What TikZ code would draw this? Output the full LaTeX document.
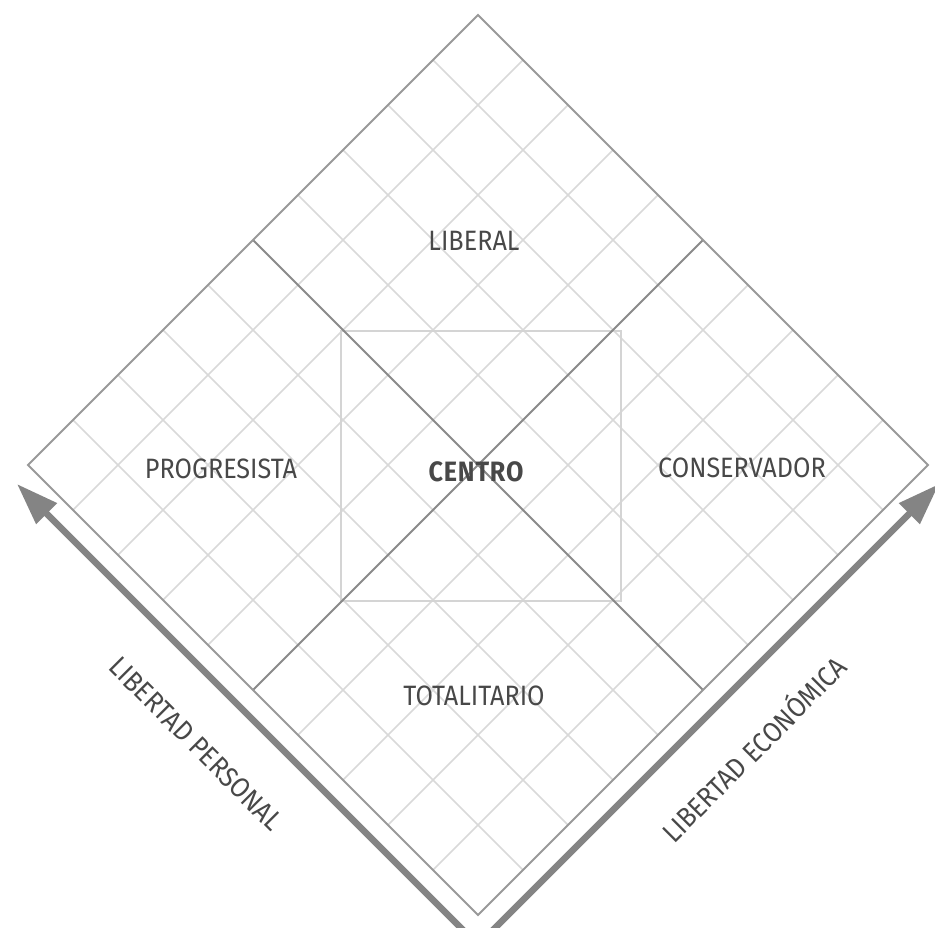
\documentclass[tikz,border=0pt]{standalone}
\usepackage{fontspec}
\newfontfamily\labfont[FakeStretch=0.9]{Fira Sans}
\usetikzlibrary{arrows.meta,calc}
\definecolor{edgegray}{HTML}{999999}
\definecolor{divgray}{HTML}{8A8A8A}
\definecolor{gridgray}{HTML}{D9D9D9}
\definecolor{boxgray}{HTML}{D4D4D4}
\definecolor{arrowgray}{HTML}{848484}
\definecolor{textgray}{HTML}{484848}
\begin{document}
\begin{tikzpicture}[x=1pt,y=-1pt,
  gridline/.style={draw=gridgray,line width=1.5pt},
  border/.style={draw=edgegray,line width=2pt,line join=miter},
  divider/.style={draw=divgray,line width=2pt},
  centerbox/.style={draw=boxgray,line width=2pt},
  axisarrow/.style={draw=arrowgray,line width=6.5pt,-{Triangle[length=42pt,width=28pt]}},
  region/.style={font=\labfont\fontsize{28}{32}\selectfont,text=textgray,inner sep=0pt,text height=19pt,text depth=0pt},
  axislabel/.style={font=\labfont\fontsize{28}{32}\selectfont,text=textgray,inner sep=0pt,text height=19pt,text depth=0pt},
]
\useasboundingbox (0,0) rectangle (935,928);
\clip (0,0) rectangle (935,928);
\coordinate (C) at (478,465);
\coordinate (T) at (478,15);
\coordinate (L) at (28,465);
\coordinate (B) at (478,915);
\coordinate (R) at (928,465);
\foreach \k in {1,2,3,4,6,7,8,9}{
  \draw[gridline] ($(L)!\k/10!(T)$) -- ($(B)!\k/10!(R)$);
  \draw[gridline] ($(L)!\k/10!(B)$) -- ($(T)!\k/10!(R)$);
}
\draw[centerbox] (341,331) rectangle (621,601);
\draw[divider] ($(L)!0.5!(T)$) -- ($(B)!0.5!(R)$);
\draw[divider] ($(L)!0.5!(B)$) -- ($(T)!0.5!(R)$);
\draw[border] (T) -- (R) -- (B) -- (L) -- cycle;
\coordinate (O) at (478,945);
\coordinate (PL) at (17,484);
\coordinate (PR) at (939,484);
\draw[axisarrow] (O) -- (PL);
\draw[axisarrow] (O) -- (PR);
\node[region] (lib) at (474,241) {LIBERAL};
\node[region] (prog) at (221,469) {PROGRESISTA};
\node[region] (cons) at (742,468) {CONSERVADOR};
\node[region] (tot) at (474,696) {TOTALITARIO};
\node[region,font=\labfont\bfseries\fontsize{28}{32}\selectfont\addfontfeature{LetterSpace=3}] (cen) at (476,472) {CENTRO};
\node[axislabel,rotate=-45] (lp) at (196,744) {LIBERTAD PERSONAL};
\node[axislabel,rotate=45] (le) at (755,750) {LIBERTAD ECONÓMICA};
\end{tikzpicture}
\end{document}
